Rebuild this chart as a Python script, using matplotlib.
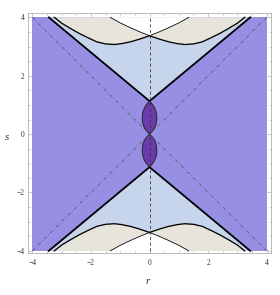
import numpy as np
import matplotlib
matplotlib.use("Agg")
import matplotlib.pyplot as plt
from matplotlib.patches import Polygon, Rectangle

# ---- data ----
# upper boundary curve "B" (beige boundary), r and s values
curve_b_r = [1.34, 1.0, 0.6, 0.3, 0.0, -0.35, -0.66, -0.95, -1.2, -1.5, -1.8, -2.1, -2.4, -2.7, -3.0, -3.25]
curve_b_s = [4.0, 3.81, 3.62, 3.49, 3.37, 3.25, 3.16, 3.10, 3.07, 3.09, 3.16, 3.30, 3.45, 3.62, 3.80, 4.0]
# wedge (light blue region) boundary
wedge_r = [-3.44, 0.0, 3.44]
wedge_s = [4.0, 1.13, 4.0]
# lens (dark purple) shape
lens_s = [0.0, 0.1, 0.22, 0.35, 0.47, 0.565, 0.66, 0.78, 0.91, 1.03, 1.13]
lens_w = [0.0, 0.10, 0.18, 0.225, 0.245, 0.25, 0.245, 0.22, 0.17, 0.09, 0.0]
box = [-4.0, 4.0]
x_ticks = [-4, -2, 0, 2, 4]
y_ticks = [-4, -2, 0, 2, 4]
x_labels = ["\u22124", "\u22122", "0", "2", "4"]
y_labels = ["\u22124", "\u22122", "0", "2", "4"]

C_BG = "#968fe3"
C_LB = "#c6d5ec"
C_BE = "#e7e5db"
C_LENS = "#6b3ca9"

DPI = 72
fig = plt.figure(figsize=(280 / DPI, 295 / DPI), dpi=DPI)
ax = fig.add_axes([0.099, 0.1407, 0.869, 0.8163])
ax.set_xlim(-4.16, 4.15)
ax.set_ylim(-4.09, 4.16)

br = np.array(curve_b_r)
bs = np.array(curve_b_s)
wr = np.array(wedge_r)
ws = np.array(wedge_s)

ax.add_patch(Rectangle((box[0], box[0]), box[1] - box[0], box[1] - box[0],
                       facecolor=C_BG, edgecolor="none", zorder=1))

for sg in (1, -1):
    # light blue wedge
    ax.add_patch(Polygon(np.column_stack([wr, sg * ws]), closed=True,
                         facecolor=C_LB, edgecolor="none", zorder=2))
    # beige regions above curve B and its mirror A
    for mr in (1, -1):
        ax.add_patch(Polygon(np.column_stack([mr * br, sg * bs]), closed=True,
                             facecolor=C_BE, edgecolor="none", zorder=3))
    # white region above both
    right = br >= 0
    wr_pts = np.concatenate([-br[right][::-1][::-1], br[right][::-1]])
    ws_pts = np.concatenate([bs[right], bs[right][::-1]])
    wx = np.concatenate([-br[right], br[right][::-1]])
    ax.add_patch(Polygon(np.column_stack([wx, sg * ws_pts]), closed=True,
                         facecolor="white", edgecolor="none", zorder=4))
    # lines
    ax.plot(wr, sg * ws, color="black", lw=1.8, zorder=6, solid_joinstyle="miter")
    left = br <= 0
    for mr in (1, -1):
        ax.plot(mr * br[left], sg * bs[left], color="black", lw=1.3, zorder=6)
        ax.plot(mr * br[right], sg * bs[right], color="black", lw=0.8, zorder=6)
    # lens
    ls = np.array(lens_s)
    lw_ = np.array(lens_w)
    px = np.concatenate([lw_, -lw_[::-1]])
    py = np.concatenate([ls, ls[::-1]]) * sg
    ax.add_patch(Polygon(np.column_stack([px, py]), closed=True,
                         facecolor=C_LENS, edgecolor="#222222", lw=0.9, zorder=7))

# reference lines
ax.plot([0, 0], box, color="#333333", lw=0.8, ls=(0, (4, 3)), zorder=8)
ax.plot(box, box, color="#555555", lw=0.7, ls=(0, (5, 3, 1, 3)), zorder=8)
ax.plot(box, box[::-1], color="#555555", lw=0.7, ls=(0, (5, 3, 1, 3)), zorder=8)

# frame and ticks
for sp in ax.spines.values():
    sp.set_color("#aaaaaa")
    sp.set_linewidth(0.8)
ax.set_xticks(x_ticks)
ax.set_xticklabels(x_labels)
ax.set_yticks(y_ticks)
ax.set_yticklabels(y_labels)
minor = np.arange(-4, 4.01, 0.5)
ax.set_xticks(minor, minor=True)
ax.set_yticks(minor, minor=True)
ax.tick_params(which="both", direction="in", top=True, right=True, color="#aaaaaa", width=0.6)
ax.tick_params(which="major", length=4)
ax.tick_params(which="minor", length=2)
ax.tick_params(axis="x", which="major", pad=6)
ax.tick_params(axis="y", which="major", pad=3)
for lab in ax.get_xticklabels() + ax.get_yticklabels():
    lab.set_fontfamily("Liberation Serif")
    lab.set_fontsize(7.5)
    lab.set_color("#333333")

fig.text(148 / 280, 1 - 282 / 295, "r", fontfamily="Liberation Serif", style="italic",
         fontsize=11, ha="center", va="center", color="#333333")
fig.text(7 / 280, 1 - 137 / 295, "s", fontfamily="Liberation Serif", style="italic",
         fontsize=11, ha="center", va="center", color="#333333")

fig.savefig("out.png", dpi=DPI)
